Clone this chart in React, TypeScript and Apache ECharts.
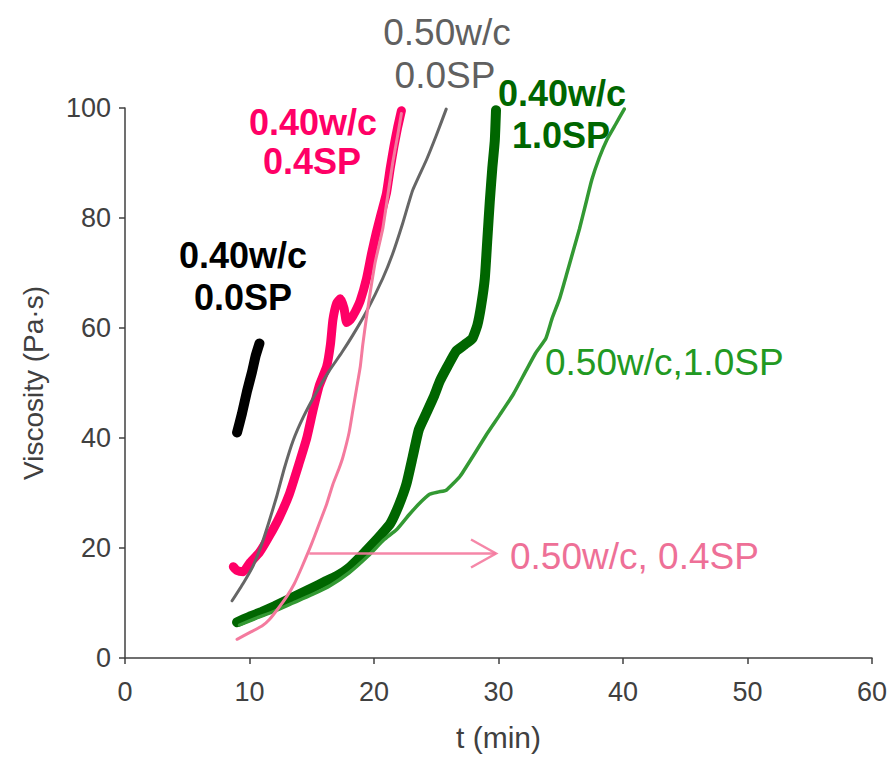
import React, { useEffect, useRef } from "react";
import * as echarts from "echarts";

// Viscosity (Pa·s) against time t (min) for each mix
const wc040sp00: number[][] = [
  [9.0, 41], [9.4, 44.5], [9.8, 48.5], [10.2, 52], [10.5, 55], [10.8, 57.2],
];

const wc040sp04: number[][] = [
  [8.7, 16.6], [9.0, 15.9], [9.5, 15.7], [10.0, 17.2], [10.8, 19.2], [11.6, 22.2],
  [12.4, 25.6], [13.2, 29.8], [14.0, 35.5], [14.6, 40], [15.1, 45], [15.6, 49.5],
  [16.2, 53], [16.5, 57], [16.7, 61.5], [17.0, 64.5], [17.3, 65.3], [17.6, 63.5],
  [17.8, 61], [18.1, 61.5], [18.5, 63], [18.9, 65], [19.4, 69], [19.8, 73.5],
  [20.2, 77.5], [20.6, 81], [21.0, 84.5], [21.3, 89], [21.6, 93], [21.9, 96.5],
  [22.2, 99.5],
];

const wc050sp00: number[][] = [
  [8.6, 10.4], [9.5, 13.6], [10.3, 16.8], [11.0, 20.8], [11.6, 25], [12.2, 29.5],
  [12.8, 34.5], [13.5, 39.5], [14.3, 43.7], [15.3, 48], [16.4, 52.2],
  [17.4, 55.5], [18.3, 58.7], [19.4, 63], [20.7, 69], [21.5, 73.5], [22.3, 79],
  [23.1, 85], [24.2, 90.5], [25.0, 95], [25.8, 99.8],
];

const wc050sp04: number[][] = [
  [9.0, 3.4], [10.0, 4.6], [11.0, 5.8], [11.6, 7], [12.3, 9], [13.0, 11.2],
  [13.6, 13.5], [14.2, 16.5], [14.8, 19.7], [15.2, 22], [15.6, 24.4], [16.2, 28],
  [16.7, 31.6], [17.2, 34.5], [17.5, 36.5], [18.0, 41], [18.3, 45], [18.6, 49],
  [18.9, 53], [19.1, 57], [19.4, 62], [19.7, 66.5], [20.1, 72], [20.7, 78],
  [21.1, 84], [21.5, 90], [21.9, 95], [22.2, 99],
];

const wc040sp10: number[][] = [
  [9.0, 6.5], [10.0, 7.5], [11.0, 8.4], [12.0, 9.4], [13.0, 10.5], [14.0, 11.6],
  [15.0, 12.7], [16.0, 13.8], [17.0, 14.9], [18.0, 16.4], [19.0, 18.6], [19.8, 20.5],
  [20.6, 22.5], [21.3, 24.4], [22.0, 27.8], [22.6, 31.6], [23.1, 36.5], [23.6, 41.5],
  [24.2, 44.5], [24.8, 47.5], [25.3, 50.4], [25.9, 53], [26.6, 55.8], [27.3, 57],
  [27.9, 58.1], [28.3, 60.5], [28.6, 64], [28.9, 69], [29.1, 76], [29.3, 83],
  [29.5, 89], [29.7, 94], [29.8, 99.6],
];

const wc050sp10: number[][] = [
  [9.2, 6.0], [10.5, 7.2], [12.0, 8.5], [13.5, 10], [15.0, 11.5], [16.5, 13.2],
  [18.0, 15.5], [19.5, 18.5], [20.8, 21.5], [21.8, 23.3], [22.8, 26], [23.6, 28],
  [24.5, 29.8], [25.2, 30.2], [25.8, 30.5], [26.9, 33], [27.9, 36.5], [29.0, 40.5],
  [30.1, 44.2], [31.2, 48], [32.2, 52.2], [33.0, 55.5], [33.8, 58.1], [34.3, 61.7],
  [34.9, 65.3], [35.5, 70], [36.0, 74], [36.5, 78], [37.0, 82.5], [37.5, 87],
  [38.1, 91], [38.7, 94.2], [39.4, 97], [40.1, 99.8],
];

// Arrow pointing from the 0.50w/c, 0.4SP curve to its label: [t, viscosity]
const arrowFrom = [14.8, 19];
const arrowTo = [29.8, 19];

const FONT = "'Liberation Sans', Arial, sans-serif";

const COLORS = {
  black: "#000000",
  pink: "#ff0066",
  gray: "#666666",
  lightPink: "#f47a9e",
  darkGreen: "#006600",
  green: "#339933",
};

function lineSeries(name: string, data: number[][], color: string, width: number, z: number) {
  return {
    name,
    type: "line",
    data,
    showSymbol: false,
    smooth: 0.15,
    z,
    lineStyle: { color, width, cap: "round", join: "round" },
  };
}

function label(text: string, x: number, y: number, color: string, bold: boolean, align = "center") {
  return {
    type: "text",
    x,
    y,
    z: 100,
    style: {
      text,
      fill: color,
      font: `${bold ? "bold 36px" : "37px"} ${FONT}`,
      align,
      verticalAlign: "middle",
    },
  };
}

export default function App() {
  const ref = useRef<HTMLDivElement>(null);

  useEffect(() => {
    document.body.style.margin = "0";
    if (!ref.current) return;
    const chart = echarts.init(ref.current, null, { renderer: "svg" });

    const axisLine = { show: true, lineStyle: { color: "#404040", width: 1.5 } };
    const axisTick = { show: true, inside: false, length: 6, lineStyle: { color: "#404040", width: 1.5 } };
    const axisLabel = { color: "#404040", fontSize: 27, fontFamily: FONT };

    chart.setOption({
      animation: false,
      backgroundColor: "#ffffff",
      grid: { left: 125, right: 22, top: 108, bottom: 95, containLabel: false },
      xAxis: {
        type: "value",
        min: 0,
        max: 60,
        interval: 10,
        name: "t (min)",
        nameLocation: "middle",
        nameGap: 64,
        nameTextStyle: { color: "#404040", fontSize: 30, fontFamily: FONT },
        axisLine,
        axisTick,
        axisLabel: { ...axisLabel, margin: 20 },
        splitLine: { show: false },
      },
      yAxis: {
        type: "value",
        min: 0,
        max: 100,
        interval: 20,
        name: "Viscosity (Pa·s)",
        nameLocation: "middle",
        nameGap: 78,
        nameTextStyle: { color: "#404040", fontSize: 28, fontFamily: FONT },
        axisLine,
        axisTick,
        axisLabel: { ...axisLabel, margin: 14 },
        splitLine: { show: false },
      },
      series: [
        lineSeries("0.40w/c 0.4SP", wc040sp04, COLORS.pink, 9, 2),
        lineSeries("0.50w/c 0.0SP", wc050sp00, COLORS.gray, 3, 3),
        lineSeries("0.40w/c 1.0SP", wc040sp10, COLORS.darkGreen, 10, 4),
        lineSeries("0.50w/c 1.0SP", wc050sp10, COLORS.green, 3.5, 5),
        lineSeries("0.50w/c 0.4SP", wc050sp04, COLORS.lightPink, 3, 6),
        lineSeries("0.40w/c 0.0SP", wc040sp00, COLORS.black, 10, 7),
      ],
    });

    // Annotation arrow, placed through the axes' scales
    const p0 = chart.convertToPixel({ gridIndex: 0 }, arrowFrom) as number[];
    const p1 = chart.convertToPixel({ gridIndex: 0 }, arrowTo) as number[];
    const arrowStyle = { stroke: COLORS.lightPink, lineWidth: 2.5, opacity: 0.9 };

    chart.setOption({
      graphic: [
        label("0.40w/c", 243, 255, COLORS.black, true),
        label("0.0SP", 243, 297, COLORS.black, true),
        label("0.40w/c", 313, 122, COLORS.pink, true),
        label("0.4SP", 312, 161, COLORS.pink, true),
        label("0.50w/c", 447, 32, "#606060", false),
        label("0.0SP", 445, 75, "#606060", false),
        label("0.40w/c", 562, 93, COLORS.darkGreen, true),
        label("1.0SP", 561, 135, COLORS.darkGreen, true),
        label("0.50w/c,1.0SP", 545, 362, "#229922", false, "left"),
        label("0.50w/c, 0.4SP", 510, 556, "#ee7097", false, "left"),
        {
          type: "line",
          z: 90,
          shape: { x1: p0[0], y1: p0[1], x2: p1[0], y2: p1[1] },
          style: arrowStyle,
        },
        {
          type: "polyline",
          z: 90,
          shape: {
            points: [
              [p1[0] - 25, p1[1] - 14],
              [p1[0], p1[1]],
              [p1[0] - 25, p1[1] + 14],
            ],
          },
          style: { ...arrowStyle, fill: null },
        },
      ],
    });

    return () => chart.dispose();
  }, []);

  return <div ref={ref} style={{ width: 894, height: 757 }} />;
}
